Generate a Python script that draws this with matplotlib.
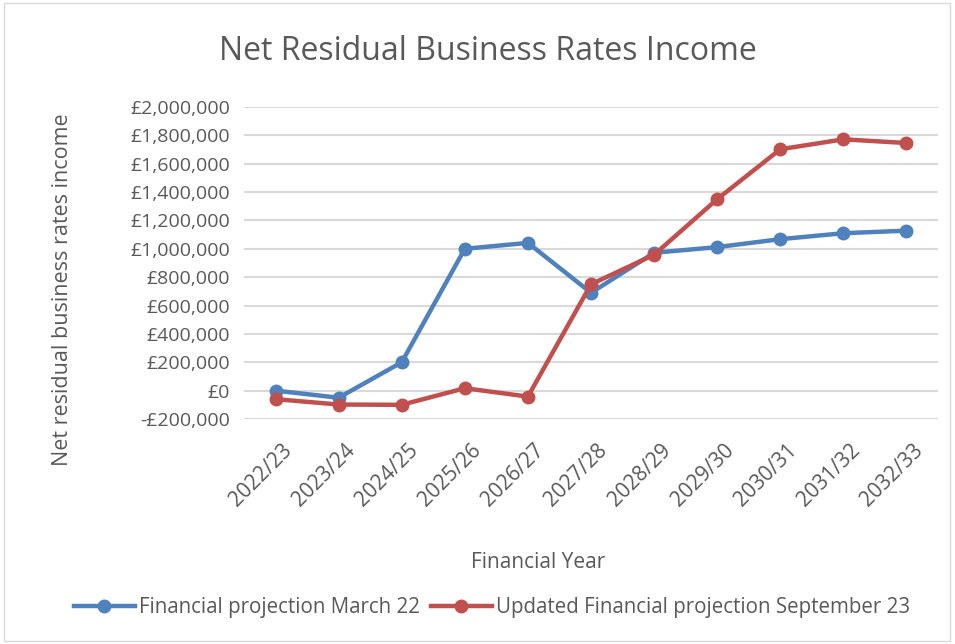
import matplotlib.pyplot as plt
from matplotlib.patches import Rectangle
from matplotlib.ticker import FuncFormatter
from matplotlib.transforms import ScaledTranslation

years = ['2022/23', '2023/24', '2024/25', '2025/26', '2026/27', '2027/28',
         '2028/29', '2029/30', '2030/31', '2031/32', '2032/33']
march_22 = [0, -50000, 200000, 1000000, 1042000, 690000,
            972000, 1012000, 1068000, 1110000, 1128000]
september_23 = [-60000, -98000, -100000, 17000, -42000, 750000,
                958000, 1350000, 1702000, 1772000, 1746000]

blue = '#4f81bd'
red = '#c0504d'
text_col = '#595959'

plt.rcParams['font.family'] = ['Open Sans', 'DejaVu Sans']

fig = plt.figure(figsize=(9.55, 6.44), dpi=100)
ax = fig.add_axes([244 / 955, 1 - 419 / 644, 694 / 955, 312 / 644])

x = range(len(years))
ax.plot(x, march_22, color=blue, lw=3.2, marker='o', ms=9,
        label='Financial projection March 22', zorder=3)
ax.plot(x, september_23, color=red, lw=3.2, marker='o', ms=9,
        label='Updated Financial projection September 23', zorder=4)

ax.set_xlim(-0.5, len(years) - 0.5)
ax.set_ylim(-200000, 2000000)
ax.set_yticks(range(-200000, 2000001, 200000))


def money(v, pos):
    if v < 0:
        return '-£{:,.0f}'.format(-v)
    return '£{:,.0f}'.format(v)


ax.yaxis.set_major_formatter(FuncFormatter(money))
ax.set_xticks(list(x))
ax.set_xticklabels(years, rotation=45, ha='right', rotation_mode='anchor')
ax.tick_params(axis='y', length=0, labelsize=14, colors=text_col, pad=10)
ax.tick_params(axis='x', length=0, labelsize=15, colors=text_col, pad=15)
shift = ScaledTranslation(6 / 100, 0, fig.dpi_scale_trans)
for lab in ax.get_xticklabels():
    lab.set_transform(lab.get_transform() + shift)
ax.grid(axis='y', color='#d9d9d9', lw=1.5)
ax.set_axisbelow(True)
for s in ax.spines.values():
    s.set_visible(False)

fig.text(62 / 955, 1 - 290 / 644, 'Net residual business rates income',
         fontsize=15.5, color=text_col, rotation=90, ha='center', va='center')
fig.text(538 / 955, 1 - 563 / 644, 'Financial Year', fontsize=15,
         color=text_col, ha='center', va='center')
fig.text(488 / 955, 1 - 52 / 644, 'Net Residual Business Rates Income',
         fontsize=23, color=text_col, ha='center', va='center')

fig.legend(loc='center', bbox_to_anchor=(492 / 955, 1 - 608 / 644), ncol=2,
           frameon=False, fontsize=14.8, labelcolor=text_col,
           handlelength=3, columnspacing=0.5, handletextpad=0.2)

fig.patches.append(Rectangle((4 / 955, 3 / 644), 946 / 955, 638 / 644,
                             transform=fig.transFigure, fill=False,
                             edgecolor='#d9d9d9', lw=1))

fig.savefig('out.png', dpi=100)
